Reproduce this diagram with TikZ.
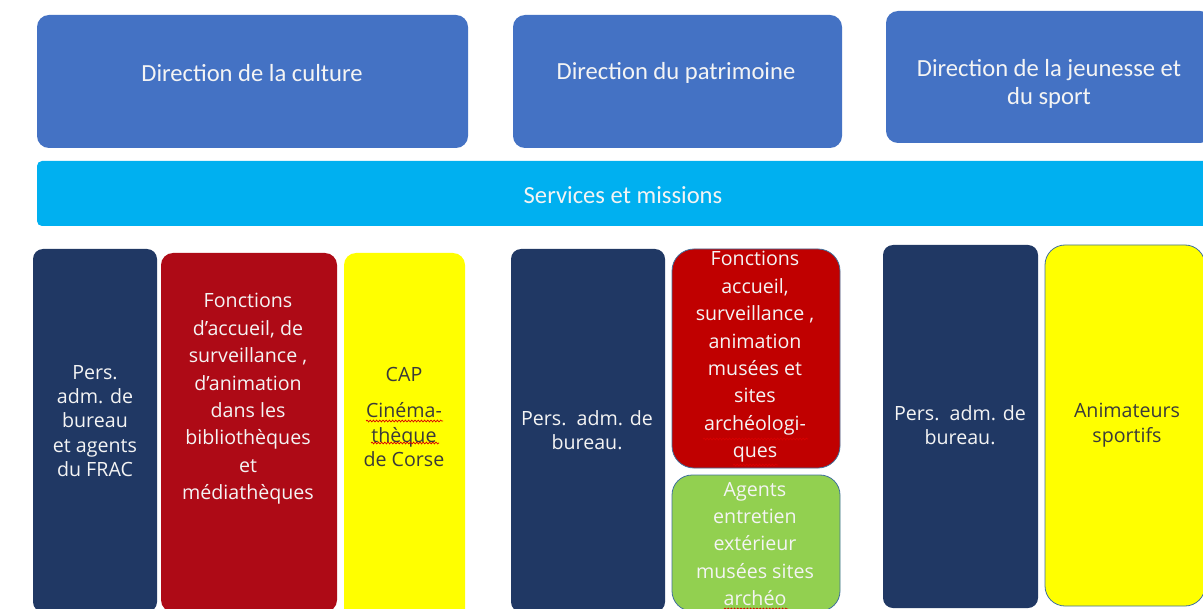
\documentclass[tikz,border=0pt]{standalone}
\usepackage{fontspec}
\setmainfont{Carlito}
\newfontfamily\boxfont{Open Sans}
\usetikzlibrary{decorations.pathmorphing}
\definecolor{hdr}{HTML}{4472C4}
\definecolor{svc}{HTML}{00B0F0}
\definecolor{navy}{HTML}{203864}
\definecolor{redA}{HTML}{AE0A16}
\definecolor{redB}{HTML}{C00000}
\definecolor{yel}{HTML}{FFFF00}
\definecolor{grn}{HTML}{92D050}
\definecolor{edgeblue}{HTML}{41719C}
\definecolor{ytext}{HTML}{3A3A3A}
\definecolor{wtext}{HTML}{F4F4F4}
\begin{document}
\begin{tikzpicture}[x=1bp,y=-1bp,
  rbox/.style={inner sep=0pt, outer sep=0pt, anchor=north west, rounded corners=#1},
  htxt/.style={text=wtext, font={\fontsize{24.7}{28}\selectfont}, align=center, inner sep=0pt},
  ltxt/.style={text=wtext, font={\boxfont\fontsize{19.7}{27.5}\selectfont}, align=center, inner sep=0pt},
  ltxtB/.style={ltxt, font={\boxfont\fontsize{19.7}{24.5}\selectfont}},
  ytxt/.style={ltxt, text=ytext, font={\boxfont\fontsize{19.7}{24.5}\selectfont}},
  spell/.style={draw=red!85!black, line width=0.7bp, decorate, decoration={snake, amplitude=0.9bp, segment length=3.2bp}}
]
\useasboundingbox (0,0) rectangle (1203,609);
\clip (0,0) rectangle (1203,609);
\fill[white] (0,0) rectangle (1203,609);

% top row
\node[rbox=12bp, fill=hdr, minimum width=431bp, minimum height=133bp] (dc) at (37,15) {};
\node[rbox=12bp, fill=hdr, minimum width=329bp, minimum height=133bp] (dp) at (513,15) {};
\node[rbox=12bp, fill=hdr, minimum width=326bp, minimum height=132bp] (dj) at (886,11) {};
\node[htxt] (tdc) at (252,73) {Direction de la culture};
\node[htxt] (tdp) at (676,73) {Direction du patrimoine};
\node[htxt] (tdj) at (1049,84) {Direction de la jeunesse et\\du sport};

% services bar
\node[rbox=5bp, fill=svc, minimum width=1172bp, minimum height=65bp] (sm) at (37,161) {};
\node[htxt] (tsm) at (623,195) {Services et missions};

% lower boxes
\node[rbox=10bp, fill=navy, minimum width=124bp, minimum height=363bp] (n1) at (33,249) {};
\node[rbox=12bp, fill=redA, minimum width=176bp, minimum height=359bp] (r1) at (161,253) {};
\node[rbox=12bp, fill=yel, minimum width=121bp, minimum height=372bp] (y1) at (344,253) {};
\node[rbox=10bp, fill=navy, minimum width=154bp, minimum height=363bp] (n2) at (511,249) {};
\node[rbox=22bp, fill=redB, draw=edgeblue, line width=0.8bp, minimum width=168bp, minimum height=219bp] (r2) at (672,249) {};
\node[rbox=20bp, fill=grn, draw=edgeblue, line width=0.8bp, minimum width=168bp, minimum height=136bp] (g2) at (672,475) {};
\node[rbox=10bp, fill=navy, minimum width=155bp, minimum height=363bp] (n3) at (883,245) {};
\node[rbox=20bp, fill=yel, draw=edgeblue, line width=0.8bp, minimum width=160bp, minimum height=361bp] (y3) at (1045,245) {};

% texts
\node[ltxtB] (tn1) at (95,421) {Pers.\\adm. de\\bureau\\et agents\\du FRAC};
\node[ltxt] (tr1) at (248,399) {Fonctions\\d’accueil, de\\surveillance ,\\d’animation\\dans les\\bibliothèques\\et\\médiathèques};
\node[ytxt] (ty1) at (404,417) {CAP\\[12bp]Cinéma-\\thèque\\de Corse};
\node[ltxtB] (tn2) at (587,430) {Pers.\ \ adm. de\\bureau.};
\node[ltxt] (tr2) at (755,357) {Fonctions\\accueil,\\surveillance ,\\animation\\musées et\\sites\\archéologi-\\ques};
\node[ltxt] (tg2) at (755,544) {Agents\\entretien\\extérieur\\musées sites\\archéo};
\node[ltxtB] (tn3) at (960,425) {Pers.\ \ adm. de\\bureau.};
\node[ytxt] (ty3) at (1127,425) {Animateurs\\sportifs};

% spell-check underlines
\draw[spell] (366,421) -- (443,421);
\draw[spell] (371,443) -- (439,443);
\draw[spell] (703,439) -- (808,439);
\draw[spell] (733,465) -- (778,465);
\draw[spell] (724,609) -- (788,609);
\end{tikzpicture}
\end{document}
